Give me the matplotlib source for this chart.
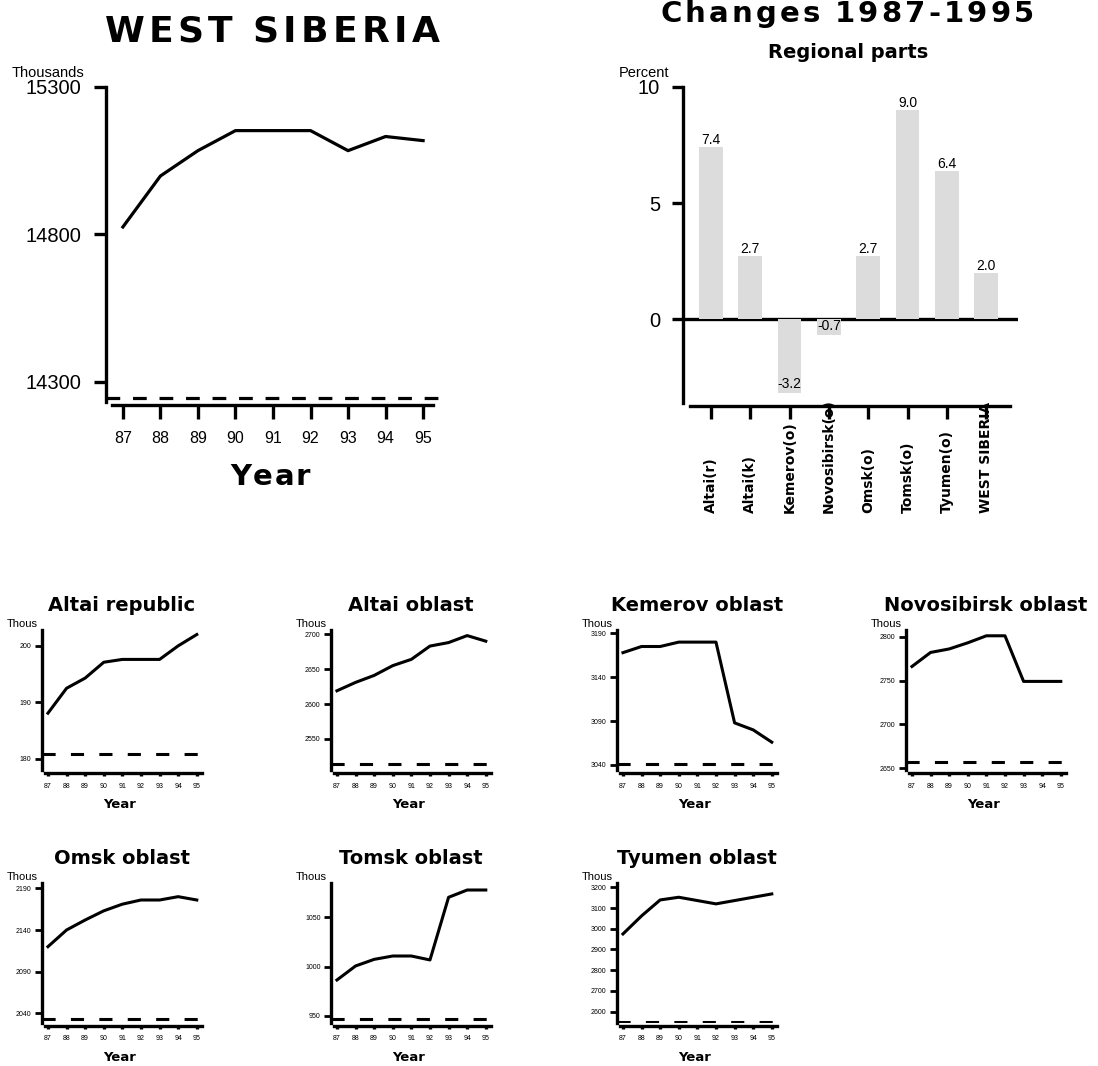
import matplotlib
matplotlib.use('Agg')
import matplotlib.pyplot as plt

# ---- data ----
years = [87, 88, 89, 90, 91, 92, 93, 94, 95]
west_siberia = [14825, 14998, 15084, 15152, 15152, 15152, 15084, 15132, 15118]

regions = ['Altai(r)', 'Altai(k)', 'Kemerov(o)', 'Novosibirsk(o)', 'Omsk(o)',
           'Tomsk(o)', 'Tyumen(o)', 'WEST SIBERIA']
changes = [7.4, 2.7, -3.2, -0.7, 2.7, 9.0, 6.4, 2.0]

altai_rep = [188.1, 192.5, 194.3, 197.1, 197.6, 197.6, 197.6, 200.0, 202.0]
altai_obl = [2619, 2631, 2641, 2655, 2664, 2683, 2688, 2698, 2690]
kemerov = [3168, 3175, 3175, 3180, 3180, 3180, 3088, 3080, 3066]
novosibirsk = [2766, 2782, 2786, 2793, 2801, 2801, 2749, 2749, 2749]
omsk = [2120, 2140, 2152, 2163, 2171, 2176, 2176, 2180, 2176]
tomsk = [986.5, 1000.7, 1007.4, 1010.8, 1010.8, 1006.8, 1070.3, 1077.7, 1077.7]
tyumen = [2975, 3062, 3139, 3152, 3136, 3120, 3136, 3152, 3168]

small_titles = ['Altai republic', 'Altai oblast', 'Kemerov oblast', 'Novosibirsk oblast',
                'Omsk oblast', 'Tomsk oblast', 'Tyumen oblast']
small_series = [altai_rep, altai_obl, kemerov, novosibirsk, omsk, tomsk, tyumen]
small_yticks = [[180, 190, 200], [2550, 2600, 2650, 2700], [3040, 3090, 3140, 3190],
                [2650, 2700, 2750, 2800], [2040, 2090, 2140, 2190], [950, 1000, 1050],
                [2600, 2700, 2800, 2900, 3000, 3100, 3200]]
small_ylims = [(178.05, 202.8), (2505.6, 2706), (3034.3, 3193.8), (2648, 2807.6),
               (2028.4, 2196.4), (942.9, 1084.8), (2545.5, 3220.7)]
small_base = [180.9, 2513.7, 3041, 2657.5, 2032.8, 946.7, 2549]

W, H = 1098, 1066
plt.rcParams['font.family'] = 'DejaVu Sans'
fig = plt.figure(figsize=(W / 100, H / 100), dpi=100)


def px_box(left, top, right, bottom):
    return [left / W, 1 - bottom / H, (right - left) / W, (bottom - top) / H]


def tracked(x, y, s, width, size, **kw):
    # letter spaced text: centred on x px, baseline at y px, spread over width px
    r = fig.canvas.get_renderer()
    ws = []
    for ch in s:
        if ch == ' ':
            ws.append(0.3 * size * 100 / 72)
            continue
        t = fig.text(0, 0, ch, fontsize=size, **kw)
        ws.append(t.get_window_extent(r).width)
        t.remove()
    gap = (width - sum(ws)) / (len(s) - 1)
    cx = x - width / 2
    for ch, w in zip(s, ws):
        if ch != ' ':
            fig.text(cx / W, 1 - y / H, ch, fontsize=size, ha='left', va='baseline', **kw)
        cx += w + gap


def style(ax, lw):
    for s in ['top', 'right']:
        ax.spines[s].set_visible(False)
    ax.spines['left'].set_linewidth(lw)
    ax.spines['bottom'].set_linewidth(lw)
    ax.spines['bottom'].set_position(('outward', 2))
    ax.patch.set_alpha(0)


# ---- main chart ----
ax = fig.add_axes(px_box(106, 87, 440, 402))
ax.plot(years, west_siberia, color='black', lw=2.3)
ax.axhline(14245, color='black', lw=2.3, ls=(0, (4.3, 4)))
ax.set_xlim(86.55, 95.45)
ax.set_ylim(14231, 15300)
style(ax, 2.4)
ax.spines['bottom'].set_bounds(86.7, 95.27)
ax.set_yticks([14300, 14800, 15300])
ax.set_xticks(years)
ax.set_xticklabels([str(y) for y in years])
ax.tick_params(axis='y', length=8.5, width=2.4, pad=9, labelsize=14.5,
               labelfontfamily='Liberation Sans')
ax.tick_params(axis='x', length=10, width=2.4, pad=9, labelsize=11.5,
               labelfontfamily='Liberation Sans')
fig.text(12 / W, 1 - 77 / H, 'Thousands', fontsize=10.5, family='Liberation Sans',
         va='baseline')
tracked(272, 41.7, 'WEST SIBERIA', 335, 26, fontweight='bold')
tracked(270, 485, 'Year', 80, 21, fontweight='bold')

# ---- bar chart ----
bx = fig.add_axes(px_box(683, 87, 1018, 403))
bx.bar(range(len(changes)), changes, width=0.6, color='#dcdcdc', zorder=2)
bx.axhline(0, color='black', lw=2.4, zorder=1)
bx.set_xlim(-0.71, 7.81)
bx.set_ylim(-3.62, 10)
style(bx, 2.4)
bx.spines['bottom'].set_bounds(-0.53, 7.6)
bx.set_yticks([0, 5, 10])
bx.set_xticks(range(len(changes)))
bx.set_xticklabels([])
bx.tick_params(axis='y', length=8, width=2.4, pad=8.5, labelsize=14.5,
               labelfontfamily='Liberation Sans')
bx.tick_params(axis='x', length=9.5, width=2.4)
for i, v in enumerate(changes):
    off = 0 if v >= 0 else 0.1
    bx.text(i, v + off, '%.1f' % v, ha='center', va='bottom', fontsize=10,
            family='Liberation Sans', zorder=3)
    bx.text(i, (403 - 513) / 316, regions[i], rotation=90, ha='center', va='bottom',
            fontsize=10, fontweight='bold', transform=bx.get_xaxis_transform())
tracked(847, 22, 'Changes 1987-1995', 373, 21, fontweight='bold')
fig.text(848 / W, 1 - 58 / H, 'Regional parts', ha='center', va='baseline',
         fontsize=14, fontweight='bold')
fig.text(619 / W, 1 - 77 / H, 'Percent', fontsize=10.5, family='Liberation Sans',
         va='baseline')

# ---- small multiples ----
col_x = [42, 331, 617, 906]
row_top = [630, 883]
row_bottom = [770, 1023]
for k, (title, data) in enumerate(zip(small_titles, small_series)):
    r, c = divmod(k, 4)
    left, top, bottom = col_x[c], row_top[r], row_bottom[r]
    sa = fig.add_axes(px_box(left, top, left + 160, bottom))
    sa.plot(years, data, color='black', lw=2.2)
    sa.axhline(small_base[k], color='black', lw=2.2, ls=(0, (4.3, 5)))
    sa.set_xlim(86.68, 95.28)
    sa.set_ylim(*small_ylims[k])
    style(sa, 2.4)
    sa.spines['bottom'].set_bounds(86.85, 95.27)
    sa.set_yticks(small_yticks[k])
    sa.set_xticks(years)
    sa.set_xticklabels([str(y) for y in years])
    sa.tick_params(axis='y', length=5, width=2, pad=2.5, labelsize=5,
                   labelfontfamily='Liberation Sans')
    sa.tick_params(axis='x', length=2, width=2.4, pad=5, labelsize=5,
                   labelfontfamily='Liberation Sans')
    fig.text((left + 80) / W, 1 - (top - 19) / H, title, ha='center', va='baseline',
             fontsize=14, fontweight='bold')
    fig.text((left - 4) / W, 1 - (top - 1) / H, 'Thous', ha='right', va='bottom',
             fontsize=8, family='Liberation Sans')
    fig.text((left + 78) / W, 1 - (bottom + 38) / H, 'Year', ha='center', va='baseline',
             fontsize=9.5, fontweight='bold')

fig.savefig('out.png', dpi=100)
